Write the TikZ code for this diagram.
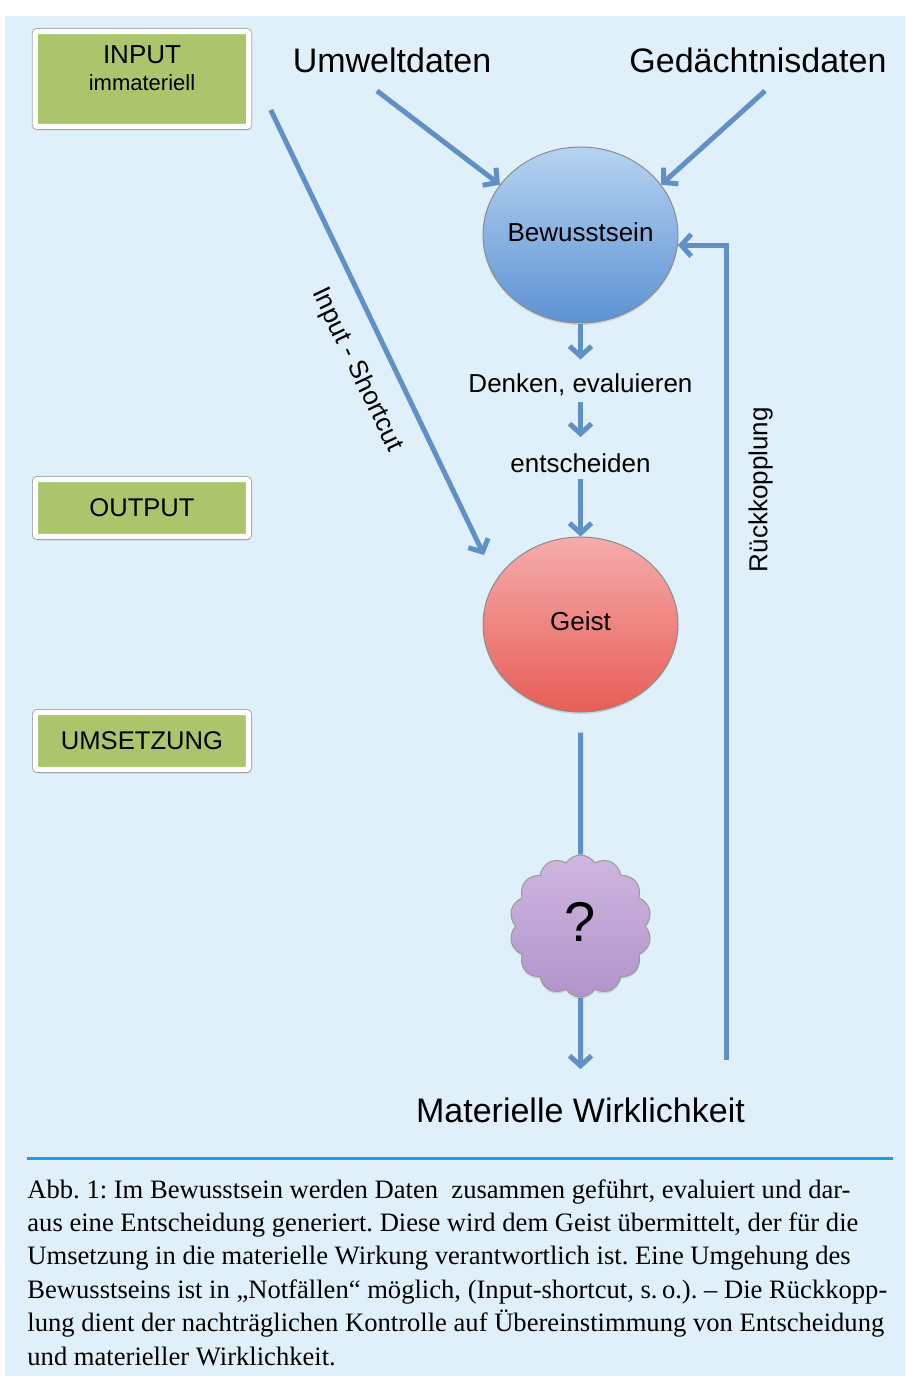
\documentclass[tikz,border=0pt]{standalone}
\usepackage{fontspec}
\setmainfont{Liberation Serif}
\setsansfont{Liberation Sans}
\usetikzlibrary{positioning,shapes.geometric,shapes.symbols,shadows,arrows.meta}

\definecolor{bgblue}{RGB}{223,240,250}
\definecolor{arrowblue}{RGB}{96,144,198}
\definecolor{rulecyan}{RGB}{28,160,224}
\definecolor{boxgreen}{RGB}{170,197,108}
\definecolor{bewtop}{RGB}{182,211,241}
\definecolor{bewbot}{RGB}{92,146,212}
\definecolor{geisttop}{RGB}{245,172,172}
\definecolor{geistbot}{RGB}{232,94,86}
\definecolor{cloudtop}{RGB}{206,182,224}
\definecolor{cloudbot}{RGB}{178,148,204}

\begin{document}
\begin{tikzpicture}[
x=0.5pt, y=-0.5pt,
bigtext/.style={
  font=\sffamily\fontsize{17}{20}\selectfont,
  inner sep=2pt
  },
midtext/.style={
  font=\sffamily\fontsize{13}{15}\selectfont,
  inner sep=3pt
  },
greenbox/.style={
  rectangle,
  rounded corners=1pt,
  fill=boxgreen,
  draw=white,
  line width=2.6pt,
  preaction={draw=black!35, line width=3.5pt},
  drop shadow={shadow xshift=0.6pt, shadow yshift=-1.8pt, opacity=0.4},
  minimum width=106.5pt,
  minimum height=28.5pt,
  font=\sffamily\fontsize{12.8}{15}\selectfont
  },
stage/.style={
  ellipse,
  draw=black!45,
  line width=0.5pt,
  inner sep=0pt,
  minimum width=97.5pt,
  minimum height=88pt,
  drop shadow={shadow xshift=0pt, shadow yshift=-1pt, opacity=0.25},
  font=\sffamily\fontsize{13}{15}\selectfont
  },
link/.style={
  draw=arrowblue,
  line width=2.5pt
  },
>={Straight Barb[length=5pt,width=11pt]}
]

% page and background
\useasboundingbox (0,0) rectangle (905,1376);
\fill[white] (0,0) rectangle (905,1376);
\fill[bgblue] (5,16) rectangle (905,1376);

% left column
\node[greenbox, minimum height=47.5pt] (input) at (142,79)
  {\parbox[c][33pt][t]{100pt}{\centering\fontsize{13}{14}\selectfont INPUT\\
   \fontsize{11}{13.5}\selectfont immateriell}};
\node[greenbox] (output) at (142,508) {OUTPUT};
\node[greenbox] (umsetz) at (142,741) {UMSETZUNG};

% sources
\node[bigtext] (umwelt) at (392,60) {Umweltdaten};
\node[bigtext] (gedae) at (758,60) {Gedächtnisdaten};

% main chain
\node[stage, top color=bewtop, bottom color=bewbot] (bew) at (580.5,235)
  {\makebox[0pt]{\raisebox{3pt}{Bewusstsein}}};
\node[midtext] (denken) at (580.5,385) {Denken, evaluieren};
\node[midtext] (entsch) at (580.5,463) {entscheiden};
\node[stage, top color=geisttop, bottom color=geistbot, minimum height=87.5pt] (geist) at (580.5,624.5)
  {\makebox[0pt]{\raisebox{3pt}{Geist}}};
\node[cloud, cloud puffs=14, cloud puff arc=115, aspect=1, draw=black!40, line width=0.5pt,
  top color=cloudtop, bottom color=cloudbot,
  drop shadow={shadow xshift=0pt, shadow yshift=-1pt, opacity=0.25},
  minimum width=71pt, minimum height=71pt, inner sep=0pt,
  font=\sffamily\fontsize{28}{30}\selectfont] (cloud) at (580.5,926) {\raisebox{4pt}{?}};
\node[bigtext] (wirk) at (580.5,1110) {Materielle Wirklichkeit};

\coordinate (sctip) at (484,555);
\coordinate (rk) at (726,1060);

% connectors
\draw[link,->] ([shift={(-15,14)}]umwelt.south) -- (bew.148);
\draw[link,->] ([shift={(7,14)}]gedae.south) -- (bew.32);
\draw[link,->,shorten >=4pt] (bew) -- (denken);
\draw[link,->,shorten >=5pt] (denken) -- (entsch);
\draw[link,->] (entsch) -- (geist);
\draw[link,shorten <=10pt] (geist) -- (cloud);
\draw[link,->,shorten >=12pt] (cloud) -- (wirk);
\draw[link,->] ([shift={(19.5,31)}]input.east) -- node[midtext, sloped, pos=0.55, below=7pt] {Input - Shortcut} (sctip);
\draw[link,->] (rk) |- node[midtext, sloped, pos=0.35, below=7pt] {Rückkopplung} (bew.-6);

% caption
\draw[rulecyan, line width=1.5pt] (27,1158) -- (893,1158);
\node[anchor=north west, inner sep=0pt, align=left,
  font=\rmfamily\frenchspacing\fontsize{13.3}{16.7}\selectfont] (caption) at (27,1179)
  {Abb. 1: Im Bewusstsein werden Daten~ zusammen geführt, evaluiert und dar-\\
   aus eine Entscheidung generiert. Diese wird dem Geist übermittelt, der für die\\
   Umsetzung in die materielle Wirkung verantwortlich ist. Eine Umgehung des\\
   Bewusstseins ist in „Notfällen“ möglich, (Input-shortcut, s.\,o.). – Die Rückkopp-\\
   lung dient der nachträglichen Kontrolle auf Übereinstimmung von Entscheidung\\
   und materieller Wirklichkeit.};
\end{tikzpicture}
\end{document}
